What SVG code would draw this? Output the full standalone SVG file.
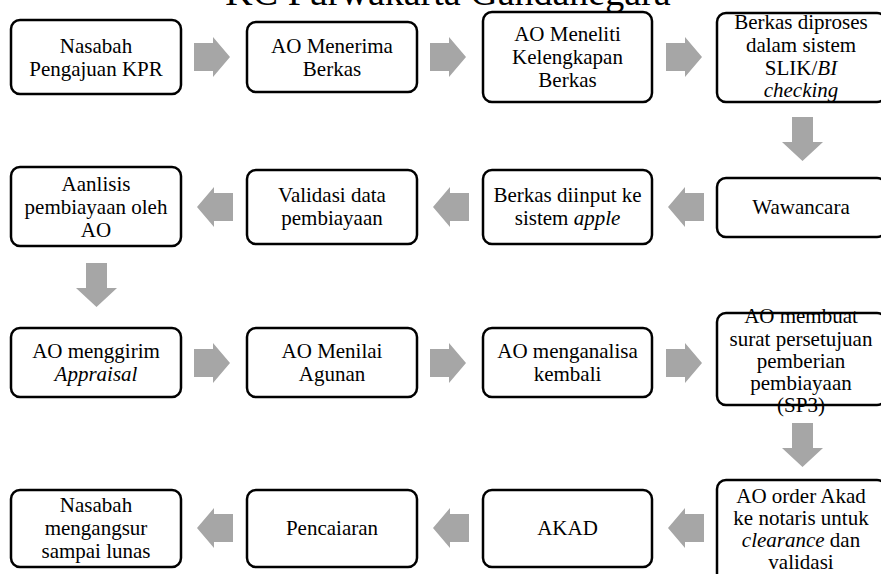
<svg xmlns="http://www.w3.org/2000/svg" xmlns:xlink="http://www.w3.org/1999/xlink" width="881" height="574" viewBox="0 0 881 574">
<defs>
<style>
.box{fill:#fff;stroke:#000;stroke-width:2.5}
.lbl{font-family:"Liberation Serif","Times New Roman",serif;font-size:21px;fill:#000;text-anchor:middle}
.title{font-family:"Liberation Serif","Times New Roman",serif;font-size:38px;fill:#000;text-anchor:middle}
.arr{fill:#a6a6a6}
</style>
<path id="aR" class="arr" d="M0,6 H19 V0 L36,20 L19,40 V34 H0 Z"/>
<path id="aL" class="arr" d="M36,6 H17 V0 L0,20 L17,40 V34 H36 Z"/>
<path id="aD" class="arr" d="M10,0 H31 V25 H41 L20.5,44 L0,25 H10 Z"/>
</defs>
<rect width="881" height="574" fill="#fff"/>
<text class="title" x="448" y="5" font-family="Liberation Serif, serif">KC Purwakarta Gandanegara</text>

<g id="connectors">
<use xlink:href="#aR" x="194" y="37"/>
<use xlink:href="#aR" x="430" y="37"/>
<use xlink:href="#aR" x="666" y="37"/>
<use xlink:href="#aD" x="782" y="117"/>
<use xlink:href="#aL" x="668" y="187"/>
<use xlink:href="#aL" x="433" y="187"/>
<use xlink:href="#aL" x="197" y="187"/>
<use xlink:href="#aD" x="76" y="263"/>
<use xlink:href="#aR" x="194" y="343"/>
<use xlink:href="#aR" x="430" y="343"/>
<use xlink:href="#aR" x="666" y="343"/>
<use xlink:href="#aD" x="782" y="423"/>
<use xlink:href="#aL" x="668" y="508"/>
<use xlink:href="#aL" x="433" y="508"/>
<use xlink:href="#aL" x="197" y="508"/>
</g>

<g id="nodes" font-family="Liberation Serif, serif" font-size="21" text-anchor="middle">
<g id="n1"><rect class="box" x="11" y="20" width="170" height="74" rx="9"/>
<text class="lbl" x="96" y="53">Nasabah</text><text class="lbl" x="96" y="76">Pengajuan KPR</text></g>
<g id="n2"><rect class="box" x="247" y="22" width="170" height="70" rx="9"/>
<text class="lbl" x="332" y="53">AO Menerima</text><text class="lbl" x="332" y="76">Berkas</text></g>
<g id="n3"><rect class="box" x="483" y="12" width="169" height="90" rx="9"/>
<text class="lbl" x="567.5" y="41">AO Meneliti</text><text class="lbl" x="567.5" y="64">Kelengkapan</text><text class="lbl" x="567.5" y="87">Berkas</text></g>
<g id="n4"><rect class="box" x="717" y="13" width="169" height="89" rx="9"/>
<text class="lbl" x="801" y="29">Berkas diproses</text><text class="lbl" x="801" y="52">dalam sistem</text><text class="lbl" x="801" y="75">SLIK/<tspan font-style="italic">BI</tspan></text><text class="lbl" x="801" y="97" font-style="italic">checking</text></g>

<g id="n5"><rect class="box" x="717" y="178" width="169" height="59" rx="9"/>
<text class="lbl" x="801" y="214">Wawancara</text></g>
<g id="n6"><rect class="box" x="483" y="170" width="169" height="74" rx="9"/>
<text class="lbl" x="567.5" y="202">Berkas diinput ke</text><text class="lbl" x="567.5" y="225">sistem <tspan font-style="italic">apple</tspan></text></g>
<g id="n7"><rect class="box" x="247" y="170" width="170" height="74" rx="9"/>
<text class="lbl" x="332" y="202">Validasi data</text><text class="lbl" x="332" y="225">pembiayaan</text></g>
<g id="n8"><rect class="box" x="11" y="167" width="170" height="79" rx="9"/>
<text class="lbl" x="96" y="191">Aanlisis</text><text class="lbl" x="96" y="214">pembiayaan oleh</text><text class="lbl" x="96" y="237">AO</text></g>

<g id="n9"><rect class="box" x="11" y="328" width="170" height="69" rx="9"/>
<text class="lbl" x="96" y="358">AO menggirim</text><text class="lbl" x="96" y="381" font-style="italic">Appraisal</text></g>
<g id="n10"><rect class="box" x="247" y="328" width="170" height="69" rx="9"/>
<text class="lbl" x="332" y="358">AO Menilai</text><text class="lbl" x="332" y="381">Agunan</text></g>
<g id="n11"><rect class="box" x="483" y="328" width="169" height="69" rx="9"/>
<text class="lbl" x="567.5" y="358">AO menganalisa</text><text class="lbl" x="567.5" y="381">kembali</text></g>
<g id="n12"><rect class="box" x="717" y="313" width="169" height="92" rx="9"/>
<text class="lbl" x="801" y="323">AO membuat</text><text class="lbl" x="801" y="346">surat persetujuan</text><text class="lbl" x="801" y="368">pemberian</text><text class="lbl" x="801" y="390">pembiayaan</text><text class="lbl" x="801" y="412">(SP3)</text></g>

<g id="n13"><rect class="box" x="717" y="480" width="169" height="110" rx="9"/>
<text class="lbl" x="801" y="503">AO order Akad</text><text class="lbl" x="801" y="525">ke notaris untuk</text><text class="lbl" x="801" y="547"><tspan font-style="italic">clearance</tspan> dan</text><text class="lbl" x="801" y="569">validasi</text></g>
<g id="n14"><rect class="box" x="483" y="490" width="169" height="77" rx="9"/>
<text class="lbl" x="567.5" y="535">AKAD</text></g>
<g id="n15"><rect class="box" x="247" y="490" width="170" height="77" rx="9"/>
<text class="lbl" x="332" y="535">Pencaiaran</text></g>
<g id="n16"><rect class="box" x="11" y="490" width="170" height="77" rx="9"/>
<text class="lbl" x="96" y="512">Nasabah</text><text class="lbl" x="96" y="535">mengangsur</text><text class="lbl" x="96" y="558">sampai lunas</text></g>
</g>
</svg>
